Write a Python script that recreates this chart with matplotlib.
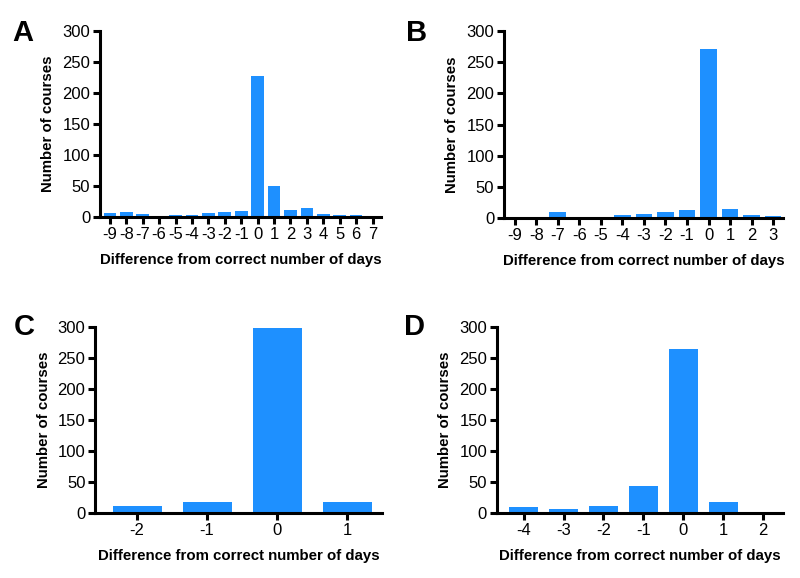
import matplotlib
matplotlib.use("Agg")
import matplotlib.pyplot as plt

plt.rcParams['font.family'] = ['Liberation Sans', 'DejaVu Sans']

BLUE = '#1E90FF'

# Panel A
a_days = [-9, -8, -7, -6, -5, -4, -3, -2, -1, 0, 1, 2, 3, 4, 5, 6, 7]
a_counts = [7, 8, 5, 2, 3, 4, 7, 8, 9, 228, 50, 12, 15, 5, 4, 4, 1]
# Panel B
b_days = [-9, -8, -7, -6, -5, -4, -3, -2, -1, 0, 1, 2, 3]
b_counts = [0, 0, 10, 2, 2, 5, 7, 10, 13, 272, 14, 5, 4]
# Panel C
c_days = [-2, -1, 0, 1]
c_counts = [12, 18, 298, 17]
# Panel D
d_days = [-4, -3, -2, -1, 0, 1, 2]
d_counts = [10, 6, 12, 43, 265, 17, 2]

yticks = [0, 50, 100, 150, 200, 250, 300]
xlabel = 'Difference from correct number of days'
ylabel = 'Number of courses'

fig = plt.figure(figsize=(8, 5.78), dpi=100)
W, H = 800, 578

panels = [
    ('A', a_days, a_counts, [0.125, 0.6246, 0.351, 0.3214], 0.77, (-9.6, 7.5), (12, 33)),
    ('B', b_days, b_counts, [0.630, 0.6228, 0.349, 0.3232], 0.78, (-9.5, 3.47), (406, 33)),
    ('C', c_days, c_counts, [0.119, 0.1125, 0.3585, 0.3215], 0.70, (-2.6, 1.5), (14, 327)),
    ('D', d_days, d_counts, [0.621, 0.1125, 0.358, 0.3215], 0.72, (-4.67, 2.5), (404, 327)),
]

for letter, days, counts, rect, width, xlim, lpos in panels:
    ax = fig.add_axes(rect)
    ax.bar(days, counts, width=width, color=BLUE, edgecolor='none', zorder=2)
    ax.set_xlim(*xlim)
    ax.set_ylim(0, 300)
    ax.set_yticks(yticks)
    ax.set_xticks(days)
    ax.set_xticklabels([str(d) for d in days])
    for s in ['top', 'right']:
        ax.spines[s].set_visible(False)
    for s in ['left', 'bottom']:
        ax.spines[s].set_linewidth(2.2)
        ax.spines[s].set_zorder(3)
    ax.tick_params(axis='both', direction='out', length=5, width=2.2,
                   labelsize=12, pad=2)
    ax.set_xlabel(xlabel, fontsize=10.8, fontweight='bold', labelpad=8)
    ax.set_ylabel(ylabel, fontsize=10.8, fontweight='bold', labelpad=5)
    fig.text(lpos[0] / W, 1 - lpos[1] / H, letter, fontsize=21,
             fontweight='bold', ha='left', va='center')

fig.savefig('out.png', dpi=100)
